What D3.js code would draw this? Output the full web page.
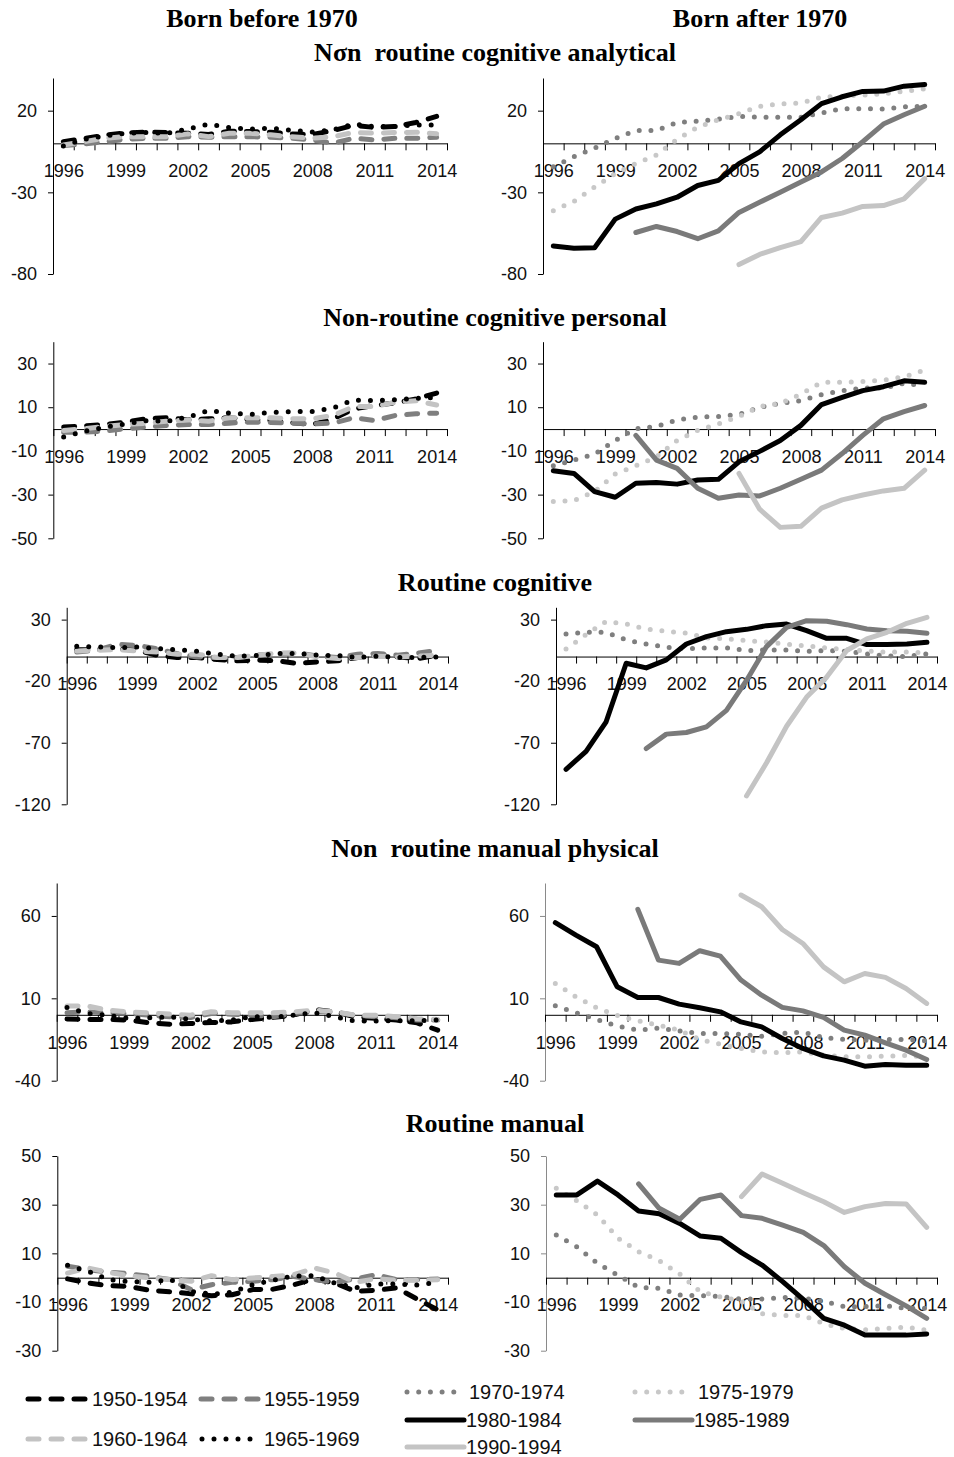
<!DOCTYPE html>
<html><head><meta charset="utf-8">
<script src="https://cdn.jsdelivr.net/npm/d3@7"></script>
<style>
body{margin:0;background:#fff;}
svg{display:block;}
</style></head><body>
<svg id="c" width="954" height="1457"></svg>
<script>
// ---------------- DATA ----------------
const years = [1996,1997,1998,1999,2000,2001,2002,2003,2004,2005,2006,2007,2008,2009,2010,2011,2012,2013,2014];
const xLabelYears = [1996,1999,2002,2005,2008,2011,2014];
const columnTitles = ["Born before 1970","Born after 1970"];
const panelTitles = ["N\u03c3n  routine cognitive analytical","Non-routine cognitive personal","Routine cognitive","Non  routine manual physical","Routine manual"];
const yDomains = [[-80,40],[-50,40],[-120,40],[-40,80],[-30,50]];
const yTicks = [[-80,-30,20],[-50,-30,-10,10,30],[-120,-70,-20,30],[-40,10,60],[-30,-10,10,30,50]];
const cohortsBefore = ["1950-1954","1955-1959","1960-1964","1965-1969"];
const cohortsAfter = ["1970-1974","1975-1979","1980-1984","1985-1989","1990-1994"];
const _ = null;

// Non routine cognitive analytical
const a1950 = [1,3,5,6.4,6.8,6.6,6.2,5.4,7.4,7.2,6.8,5.8,5.4,7.8,11.1,9.7,10.3,12.8,16.5];
const a1955 = [-1.4,-0.4,1,2.5,3.1,3.1,4.1,3.7,4.1,4.1,3.7,3.1,2.1,0,3.1,2.1,3.1,3.1,3.7];
const a1960 = [-1,1,3.1,4.1,4.1,4.1,5.8,4.1,6.2,6.2,5.2,4.1,3.1,4.1,6.6,6.2,6.6,6.8,5.8];
const a1965 = [-1.6,2.5,4.5,6.2,6.6,6.2,8.7,11.8,9.7,8.7,9.3,8,7,8.2,11.8,10.3,10.3,11.3,11.3];
const a1970 = [-14.4,-8.2,-3,3,7.8,7.8,12.8,13.6,14.8,16.5,16,15.9,16,18.6,21.2,21.2,21,22.3,22.7];
const a1975 = [-41.2,-35.5,-26.8,-18.6,-12.4,-7.2,2.5,9.9,14.4,18.1,22.7,24.1,24.7,28.2,28.9,29.5,30.3,31.8,33.4];
const a1980 = [-62.9,-64.3,-63.9,-46.4,-40.2,-37.1,-33,-25.8,-22.7,-12.4,-5.2,5.2,14.4,24.3,28.5,31.8,32,35,36];
const a1985 = [_,_,_,_,-54.6,-50.9,-54,-58.4,-53.6,-42.3,-36.1,-29.9,-23.7,-17.5,-9.3,1,11.8,17.5,22.7];
const a1990 = [_,_,_,_,_,_,_,_,_,-74.2,-68,-63.9,-60.2,-45.4,-42.7,-38.6,-38.1,-34,-21.6];

// Non-routine cognitive personal
const b1950 = [0.9,1.5,2.1,3.2,4.7,5.2,4.2,4.7,5.2,4.4,3.9,3,2.1,4.7,9.2,10.8,12,13.8,16.5];
const b1955 = [-1.4,-1.4,-0.9,0.2,0.9,1.7,2.1,2.1,2.7,3.2,3,2.7,2.4,2.7,5.2,3.9,6.2,7,7.3];
const b1960 = [-0.6,0.2,1.2,2.1,2.7,3.6,4.2,3.6,5.2,5.2,5.2,4.7,4.7,6.2,10.3,10.3,12.3,13,11];
const b1965 = [-3.6,-1,0.9,2.4,3.9,3.6,5.5,8.5,7.3,6.7,7.6,8,8,9.7,13.3,13,13.5,14.1,14.5];
const b1970 = [-16.8,-14.2,-11.5,-5.2,0.2,1.2,4.2,5.5,5.8,6.7,10,11.8,13,15.8,17.6,18.8,18.8,20.9,19.8];
const b1975 = [-33.2,-32.7,-28.6,-20.6,-16.8,-12.7,-5.2,-0.6,2.4,5.8,10.3,11.8,16,21.4,21.4,21.8,22.4,23.9,27.1];
const b1980 = [-19.1,-20.3,-28.6,-31.2,-24.8,-24.5,-25.2,-23.3,-23,-15,-10.2,-5.2,1.7,11.2,14.5,17.6,19.4,22.1,21.4];
const b1985 = [_,_,_,_,-2.9,-14.2,-18,-27.1,-31.7,-30.2,-30.6,-27.1,-23,-18.8,-11.2,-2.9,4.7,8,10.8];
const b1990 = [_,_,_,_,_,_,_,_,_,-20.3,-36.7,-45,-44.5,-36.2,-32.4,-30.2,-28.3,-27.1,-18.8];

// Routine cognitive
const c1950 = [5.6,5.6,6.4,5.1,1.1,-0.8,-0.8,-2.4,-3.5,-2.9,-3.5,-5.6,-4.3,-3.5,-0.8,1.1,-0.3,-1.6,1.1];
const c1955 = [3.7,5.1,9.9,9.1,6.4,2.4,-0.3,-0.8,-0.8,1.1,2.4,2.9,0.3,-0.8,1.9,2.4,1.1,2.9,5.1];
const c1960 = [4.5,5.1,5.6,4.5,3.7,1.9,1.9,-0.8,-0.8,1.1,2.9,2.9,-0.3,-1.6,-0.8,0.3,-0.3,0.3,1.1];
const c1965 = [8.3,7.8,7.2,7.8,6.4,5.6,4.3,1.9,0.3,0.8,2.4,2.4,1.1,0.8,-0.8,0.3,-0.8,-0.8,-0.3];
const c1970 = [18.3,19.7,19.7,13.5,10.2,7.5,6.2,7,7,4.9,5.4,5.4,4.3,4.9,4.3,2.2,0.5,0,2.2];
const c1975 = [6.2,17.8,28.6,26.4,22.4,20.5,19.1,15.1,14.3,12.9,11.9,10,8.6,7,5.7,4.6,3.5,3.8,2.7];
const c1980 = [-91.6,-77,-53,-5.4,-9.2,-2.7,10.2,16.2,20.2,22.1,25.1,26.4,21,14.8,14.8,9.7,9.7,10.2,11.6];
const c1985 = [_,_,_,_,-74.7,-63,-61.7,-57.1,-43.7,-19.4,8.1,23.7,29.1,28.6,25.9,22.4,21,20.5,18.9];
const c1990 = [_,_,_,_,_,_,_,_,_,-113.2,-86.3,-56.6,-32.9,-16.7,4.9,14.3,19.7,27,31.8];

// Non routine manual physical
const d1950 = [-2.6,-2.8,-2.8,-3.2,-4.9,-5.7,-5.3,-4.7,-4.3,-2.8,-1.6,-0.2,3.2,1.8,-1.2,-2.2,-3.2,-4.9,-9.3];
const d1955 = [1.2,1.8,1.2,0.8,-0.2,-1.2,-1.6,0.8,0.4,-0.2,-1.2,0.8,1.8,1.8,-0.4,-1.2,-1.8,-3.2,-3.2];
const d1960 = [5.3,5.3,2.8,1.8,1.2,0.4,-0.2,1.8,1.2,1.2,1.2,1.8,2.8,1.8,-0.2,-0.2,-1.2,-2.4,-2.8];
const d1965 = [4.5,0.8,-0.4,-2.2,-1.8,-1.2,-2.8,-3.6,-3.2,-1,-1.6,-0.2,1.2,-1.2,-3.8,-3.8,-3.6,-3.6,-3.2];
const d1970 = [5.5,1.2,-2.8,-6.9,-9.3,-8.1,-9.7,-11.3,-11.3,-11.9,-13,-11.3,-10.5,-13.8,-15,-15.4,-15,-15,-15.8];
const d1975 = [19,10.9,4.3,-0.4,-3.6,-6.3,-9.3,-15,-17.8,-20.4,-22.5,-23.1,-22.5,-24.5,-25.5,-25.5,-25.1,-24.7,-25.5];
const d1980 = [55.9,48.4,41.3,17,10.5,10.5,6.5,4.3,1.8,-4.3,-7.3,-14.4,-20.4,-24.9,-27.5,-31.2,-30.2,-30.6,-30.6];
const d1985 = [_,_,_,_,64,33.2,31.2,38.9,35.6,21.1,11.9,4.5,2.4,-1.6,-9.3,-12.3,-17,-21.5,-27.1];
const d1990 = [_,_,_,_,_,_,_,_,_,72.7,65.6,51.8,43.3,29.1,20,25.1,22.7,16,6.9];

// Routine manual
const e1950 = [-0.5,-2.2,-3.3,-3.6,-5.2,-5.8,-6.6,-7.4,-7,-4.9,-4.7,-2.9,-0.5,-2.2,-5.6,-5.2,-4.2,-8.8,-13.2];
const e1955 = [4.7,3.3,2.3,1.6,0.5,-0.8,-4.9,-2.9,-1.9,-1.5,-0.8,0.5,-0.8,-1.9,-0.5,1.2,-0.8,-0.8,-0.5];
const e1960 = [1.9,4,2.2,0.8,-0.1,-0.8,-1.5,0.8,-0.8,-0.1,0.5,1.2,4,1.9,-1.9,-0.4,-1.1,-1.1,-0.8];
const e1965 = [5.1,2.6,-0.8,-1.6,-1.9,-0.7,-5.6,-6.8,-6,-2.9,-1,0.7,0.8,-2.2,-4.2,-2.6,-2.6,-3,-1.9];
const e1970 = [17.5,12.7,5.9,1,-4,-4.4,-7.1,-7.4,-7.7,-8.8,-8.8,-8.1,-8.4,-9.7,-11.9,-11.9,-11.5,-12.6,-12.6];
const e1975 = [36.7,31.6,25.8,16.2,10.7,7,1.5,-5.8,-7.9,-9.7,-14.8,-15.5,-15.5,-18.9,-20.9,-21.4,-20.9,-20.3,-21.6];
const e1980 = [34,34,39.7,34,27.4,26.3,22.3,17.1,16.2,10.3,5.2,-1.6,-8.9,-16.7,-19.5,-23.6,-23.6,-23.6,-23.1];
const e1985 = [_,_,_,_,38.5,28.5,24,32.2,34,25.5,24.4,21.6,18.6,13.2,4.5,-2.3,-7,-11.6,-16.7];
const e1990 = [_,_,_,_,_,_,_,_,_,33.3,42.6,38.8,34.9,31.2,26.8,29.2,30.5,30.3,20.7];

const before = [[a1950,a1955,a1960,a1965],[b1950,b1955,b1960,b1965],[c1950,c1955,c1960,c1965],[d1950,d1955,d1960,d1965],[e1950,e1955,e1960,e1965]];
const after  = [[a1970,a1975,a1980,a1985,a1990],[b1970,b1975,b1980,b1985,b1990],[c1970,c1975,c1980,c1985,c1990],[d1970,d1975,d1980,d1985,d1990],[e1970,e1975,e1980,e1985,e1990]];

// ---------------- STYLE / LAYOUT ----------------
const styles = {
  "1950-1954":{color:"#000000", w:5, dash:"11 12"},
  "1955-1959":{color:"#7f7f7f", w:5, dash:"11 12"},
  "1960-1964":{color:"#c3c3c3", w:5, dash:"11 12"},
  "1965-1969":{color:"#000000", w:5, dash:"0 12"},
  "1970-1974":{color:"#7f7f7f", w:5, dash:"0 11.7"},
  "1975-1979":{color:"#c8c8c8", w:5, dash:"0 11.7"},
  "1980-1984":{color:"#000000", w:5, dash:null},
  "1985-1989":{color:"#7a7a7a", w:5, dash:null},
  "1990-1994":{color:"#c4c4c4", w:5, dash:null}
};
const rowsLayout = [
  {top:78,    bot:274,    titleY:61,  L:[53,447],   R:[543,935]},
  {top:341.7, bot:538.3,  titleY:326, L:[53.3,447], R:[543,935]},
  {top:607.3, bot:804.3,  titleY:591, L:[66.7,448], R:[556,937]},
  {top:883,   bot:1080.7, titleY:857, L:[56.7,448], R:[545,937]},
  {top:1156,  bot:1350.7, titleY:1132,L:[57.3,448], R:[546,937]}
];
const sans = "'Liberation Sans', Arial, Helvetica, sans-serif";
const serif = "'Liberation Serif', 'Times New Roman', Times, serif";
const fmt = d => String(d);   // plain hyphen-minus like the original

const svg = d3.select("#c");

// column titles
svg.selectAll("text.ct").data(columnTitles).join("text")
  .attr("x",(d,i)=>i===0?262:760).attr("y",27)
  .attr("text-anchor","middle").attr("font-family",serif).attr("font-weight","bold")
  .attr("font-size",26).text(d=>d);

function drawPanel(r, side, series, names){
  const L = rowsLayout[r];
  const xr = side===0 ? L.L : L.R;
  const y = d3.scaleLinear().domain(yDomains[r]).range([L.bot, L.top]);
  const x = d3.scalePoint().domain(years).range(xr).padding(0.5);
  const xb = d3.scaleLinear().domain([0, years.length]).range(xr);
  const g = svg.append("g");
  const y0 = y(0);
  const axCol = (side===1 && r>=3) ? "#8a8a8a" : "#000";

  // y axis
  const ya = g.append("g").attr("transform",`translate(${xr[0]},0)`)
    .call(d3.axisLeft(y).tickValues(yTicks[r]).tickFormat(fmt).tickSize(5).tickSizeOuter(0).tickPadding(11));
  ya.select(".domain").attr("stroke", axCol);
  ya.selectAll(".tick line").attr("stroke", axCol);
  ya.selectAll("text").attr("font-family",sans).attr("font-size",18).attr("fill","#111");

  // x axis boundary ticks
  const xa = g.append("g").attr("transform",`translate(0,${y0})`)
    .call(d3.axisBottom(xb).tickValues(d3.range(0, years.length+1)).tickSize(7).tickSizeOuter(0).tickFormat(""));
  xa.select(".domain").attr("stroke","#000");
  xa.selectAll(".tick line").attr("stroke","#000");
  // x labels
  const xl = g.append("g").attr("transform",`translate(0,${y0})`)
    .call(d3.axisBottom(x).tickValues(xLabelYears).tickFormat(fmt).tickSize(0).tickPadding(21));
  xl.select(".domain").remove();
  xl.selectAll("text").attr("font-family",sans).attr("font-size",18).attr("fill","#111");

  // lines
  const line = d3.line().defined(d=>d.v!==null).x(d=>x(d.yr)).y(d=>y(d.v));
  series.forEach((arr,i)=>{
    const st = styles[names[i]];
    const pts = years.map((yr,k)=>({yr, v:arr[k]}));
    g.append("path").datum(pts).attr("d",line)
      .attr("fill","none").attr("stroke",st.color).attr("stroke-width",st.w)
      .attr("stroke-linecap","round").attr("stroke-linejoin","round")
      .attr("stroke-dasharray",st.dash);
  });
}

rowsLayout.forEach((L,r)=>{
  svg.append("text").attr("x",495).attr("y",L.titleY)
    .attr("text-anchor","middle").attr("font-family",serif).attr("font-weight","bold")
    .attr("font-size",26).style("white-space","pre").text(panelTitles[r]);
  drawPanel(r,0,before[r],cohortsBefore);
  drawPanel(r,1,after[r],cohortsAfter);
});

// legend
const legendPos = {
  "1950-1954":{x1:28, x2:90, y:1399, tx:92},
  "1955-1959":{x1:201,x2:262,y:1399, tx:264},
  "1960-1964":{x1:28, x2:90, y:1439, tx:92},
  "1965-1969":{x1:202,x2:252,y:1439, tx:264},
  "1970-1974":{x1:407,x2:459,y:1392, tx:469},
  "1980-1984":{x1:407,x2:464,y:1420, tx:466},
  "1990-1994":{x1:407,x2:464,y:1447, tx:466},
  "1975-1979":{x1:635,x2:687,y:1392, tx:698},
  "1985-1989":{x1:635,x2:692,y:1420, tx:694}
};
const legendNames = cohortsBefore.concat(cohortsAfter);
const lg = svg.append("g");
legendNames.forEach(n=>{
  const p = legendPos[n], st = styles[n];
  lg.append("path").attr("d", d3.line()([[p.x1,p.y],[p.x2,p.y]]))
    .attr("stroke",st.color).attr("stroke-width",st.w).attr("fill","none")
    .attr("stroke-linecap","round").attr("stroke-dasharray",st.dash);
  lg.append("text").attr("x",p.tx).attr("y",p.y+7).attr("font-family",sans)
    .attr("font-size",20).attr("fill","#111").text(n);
});
</script>
</body></html>
